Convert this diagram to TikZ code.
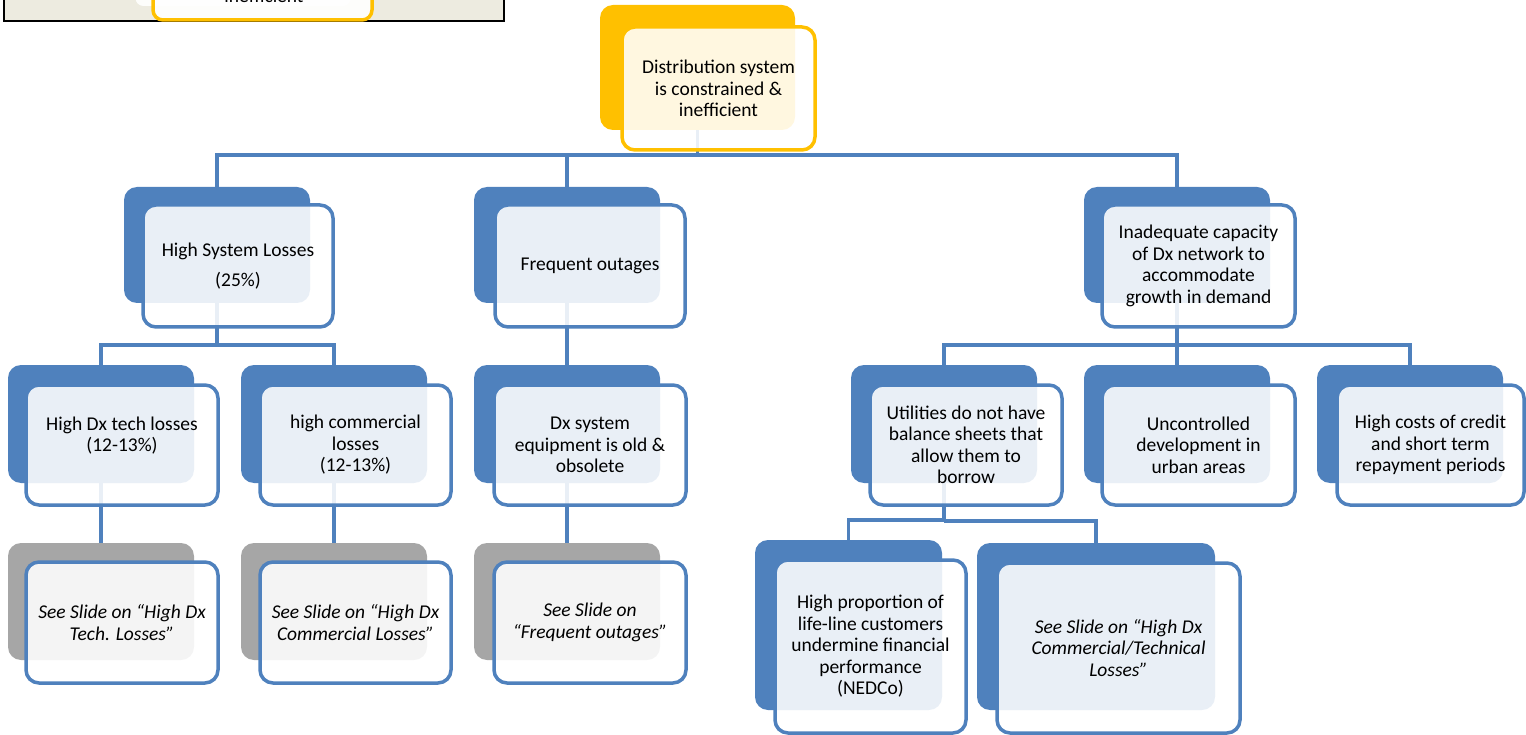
\documentclass[tikz,border=0pt]{standalone}
\usepackage{fontspec}
\setmainfont{Carlito}
\definecolor{blueC}{HTML}{4F81BD}
\definecolor{yelC}{HTML}{FFC000}
\definecolor{greyC}{HTML}{A6A6A6}
\definecolor{insetC}{HTML}{EDEBE0}
\newcommand\lblfont{\fontsize{19.5}{21.5}\selectfont}
\begin{document}
\begin{tikzpicture}[x=1pt,y=-1pt,
  bkbox/.style={fill=#1, rounded corners=13pt, inner sep=0pt, draw=none},
  frbox/.style={draw=#1, line width=3.5pt, fill=white, fill opacity=0.88, text opacity=1,
    rounded corners=13pt, inner sep=0pt, align=center, font=\lblfont},
  itbox/.style={frbox=#1, font=\lblfont\itshape},
  sz/.style 2 args={minimum width=#1pt, minimum height=#2pt},
  conn/.style={draw=blueC, line width=3.5pt}]
\useasboundingbox (0,0) rectangle (1526,735);
\clip (0,0) rectangle (1526,735);

% ---------- back boxes
\node[bkbox=yelC, sz={195}{125}] (t0) at (697.5,67.5) {};
\node[bkbox=blueC, sz={186}{116}] (a0) at (217,245) {};
\node[bkbox=blueC, sz={186}{116}] (b0) at (567,245) {};
\node[bkbox=blueC, sz={186}{116}] (c0) at (1177,245) {};
\node[bkbox=blueC, sz={186}{118}] (a1) at (101,424) {};
\node[bkbox=blueC, sz={186}{118}] (a2) at (334,424) {};
\node[bkbox=blueC, sz={186}{118}] (b1) at (567,424) {};
\node[bkbox=blueC, sz={186}{118}] (c1) at (944,424) {};
\node[bkbox=blueC, sz={186}{118}] (c2) at (1177,424) {};
\node[bkbox=blueC, sz={186}{118}] (c3) at (1410,424) {};
\node[bkbox=greyC, sz={186}{117}] (a1s) at (101,601.5) {};
\node[bkbox=greyC, sz={186}{117}] (a2s) at (334,601.5) {};
\node[bkbox=greyC, sz={186}{117}] (b1s) at (567,601.5) {};
\node[bkbox=blueC, sz={187}{170}] (d1) at (848.5,625) {};
\node[bkbox=blueC, sz={238}{167}] (d2) at (1096,626.5) {};

% ---------- connectors
\draw[conn] (t0.south) -- (t0.south |- 0,155) -| (a0.north);
\draw[conn] (t0.south |- 0,155) -| (b0.north);
\draw[conn] (t0.south |- 0,155) -| (c0.north);
\draw[conn] (a0.south) -- (a0.south |- 0,345) -| (a1.north);
\draw[conn] (a0.south |- 0,345) -| (a2.north);
\draw[conn] (b0.south) -- (b1.north);
\draw[conn] (c0.south) -- (c0.south |- 0,345) -| (c1.north);
\draw[conn] (c0.south |- 0,345) -| (c2.north);
\draw[conn] (c0.south |- 0,345) -| (c3.north);
\draw[conn] (a1.south) -- (a1s.north);
\draw[conn] (a2.south) -- (a2s.north);
\draw[conn] (b1.south) -- (b1s.north);
\draw[conn] (c1.south) -- (c1.south |- 0,520) -| (d1.north);
\draw[conn] (c1.south |- 0,521) -| (d2.north);

% ---------- front boxes
\node[frbox=yelC, sz={193}{123}] (t0f) at (718.5,88.5) {Distribution system\\is constrained \&\\inefficient};
\node[frbox=blueC, sz={190}{122}] (a0f) at (238,266) {High System Losses\\[8pt](25\%)};
\node[frbox=blueC, sz={190}{122}] (b0f) at (590,266) {Frequent outages};
\node[frbox=blueC, sz={193}{122}] (c0f) at (1198.5,266) {Inadequate capacity\\of Dx network to\\accommodate\\growth in demand};
\node[frbox=blueC, sz={192}{120}] (a1f) at (122,445) {High Dx tech losses\\(12-13\%)\\\mbox{}};
\node[frbox=blueC, sz={191}{120}] (a2f) at (355.5,445) {high commercial\\losses\\(12-13\%)};
\node[frbox=blueC, sz={192}{120}] (b1f) at (590,445) {Dx system\\equipment is old \&\\obsolete};
\node[frbox=blueC, sz={192}{120}] (c1f) at (966,445) {Utilities do not have\\balance sheets that\\allow them to\\borrow};
\node[frbox=blueC, sz={193}{120}] (c2f) at (1198.5,445) {Uncontrolled\\development in\\urban areas};
\node[frbox=blueC, sz={187}{120}] (c3f) at (1430.5,445) {High costs of credit\\and short term\\repayment periods};
\node[itbox=blueC, sz={192}{121}] (a1sf) at (122,622.5) {See Slide on “High Dx\\Tech. Losses”};
\node[itbox=blueC, sz={191}{121}] (a2sf) at (355.5,622.5) {See Slide on “High Dx\\Commercial Losses”};
\node[itbox=blueC, sz={192}{121}] (b1sf) at (590,622.5) {See Slide on\\“Frequent outages”};
\node[frbox=blueC, sz={191}{173}] (d1f) at (870.5,646.5) {High proportion of\\life-line customers\\undermine financial\\performance\\(NEDCo)};
\node[itbox=blueC, sz={243}{170}] (d2f) at (1118.5,648) {See Slide on “High Dx\\Commercial/Technical\\Losses”};

% ---------- inset thumbnail (top left)
\node[draw=black, line width=1.5pt, fill=insetC, inner sep=0pt, sz={500}{40}] (ins) at (254,1) {};
\node[fill=white, fill opacity=0.9, rounded corners=8pt, inner sep=0pt, sz={215}{30}] (insb) at (243,-9) {};
\node[draw=yelC, line width=3.5pt, fill=white, fill opacity=0.9, text opacity=1, rounded corners=10pt, inner sep=0pt, sz={219}{50}] (insf) at (262.5,-5) {};
\node[anchor=base, inner sep=0pt, font=\lblfont] (inst) at (264,3) {inefficient};
\end{tikzpicture}
\end{document}
